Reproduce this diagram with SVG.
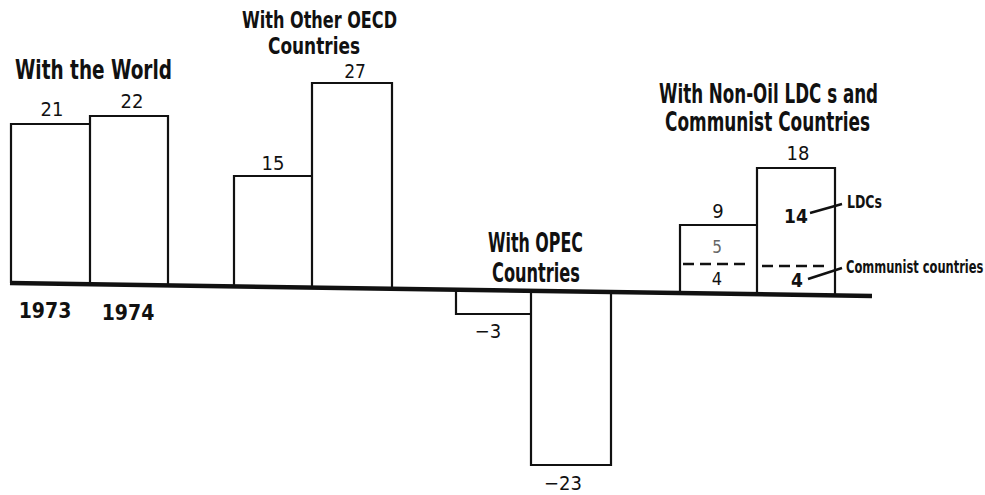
<svg xmlns="http://www.w3.org/2000/svg" width="985" height="495" viewBox="0 0 985 495">
<style>
text{font-family:"Liberation Sans Narrow","DejaVu Sans Condensed","Liberation Sans",sans-serif;fill:#111}
.title{font-size:27px;font-weight:bold}
.num{font-size:20px;text-anchor:middle}
.yr{font-size:21px;font-weight:bold;text-anchor:middle}
.lbl{font-size:17px;font-weight:bold}
.bar{fill:none;stroke:#111;stroke-width:2.2;stroke-linejoin:miter}
.dash{fill:none;stroke:#111;stroke-width:2.6;stroke-dasharray:11 6}
.lead{stroke:#111;stroke-width:2.5;fill:none}
</style>
<rect width="985" height="495" fill="#fff"/>
<g id="axis">
<line x1="10" y1="283" x2="872" y2="296" stroke="#111" stroke-width="4.5"/>
</g>
<g id="world">
<text class="title" x="15" y="79" textLength="157" lengthAdjust="spacingAndGlyphs">With the World</text>
<path class="bar" d="M11,283 V124 H90"/>
<path class="bar" d="M90,284.2 V116 H168 V285.4"/>
<text class="num" x="52" y="116">21</text>
<text class="num" x="132" y="108">22</text>
<text class="yr" x="45" y="318">1973</text>
<text class="yr" x="128" y="320">1974</text>
</g>
<g id="oecd">
<text class="title" x="242" y="28" style="font-size:23px" textLength="155" lengthAdjust="spacingAndGlyphs">With Other OECD</text>
<text class="title" x="268" y="54" style="font-size:23px" textLength="92" lengthAdjust="spacingAndGlyphs">Countries</text>
<path class="bar" d="M234,286.4 V176 H312"/>
<path class="bar" d="M312,287.6 V83 H392 V288.8"/>
<text class="num" x="273" y="170">15</text>
<text class="num" x="355" y="78" style="font-size:19px">27</text>
</g>
<g id="opec">
<text class="title" x="488" y="252" textLength="95" lengthAdjust="spacingAndGlyphs">With OPEC</text>
<text class="title" x="492" y="282" textLength="88" lengthAdjust="spacingAndGlyphs">Countries</text>
<path class="bar" d="M456,289.7 V314 H531"/>
<path class="bar" d="M531,290.9 V465 H611 V292.1"/>
<text class="num" x="488" y="338">−3</text>
<text class="num" x="563" y="490">−23</text>
</g>
<g id="nonoil">
<text class="title" x="659" y="103" textLength="219" lengthAdjust="spacingAndGlyphs">With Non-Oil LDC s and</text>
<text class="title" x="665" y="131" textLength="205" lengthAdjust="spacingAndGlyphs">Communist Countries</text>
<path class="bar" d="M680,293.1 V225 H757"/>
<path class="bar" d="M757,294.3 V168 H835 V295.4"/>
<line class="dash" x1="683" y1="264" x2="750" y2="264"/>
<line class="dash" x1="762" y1="266" x2="830" y2="266"/>
<text class="num" x="718" y="218">9</text>
<text class="num" x="798" y="160">18</text>
<text class="num" x="717" y="253" style="font-size:17px;fill:#666">5</text>
<text class="num" x="717" y="285" style="font-size:18px">4</text>
<text class="num" x="796" y="223" style="font-size:19px;font-weight:bold">14</text>
<text class="num" x="797" y="287" style="font-size:19px;font-weight:bold">4</text>
<text class="lbl" x="847" y="208" textLength="35" lengthAdjust="spacingAndGlyphs">LDCs</text>
<text class="lbl" transform="translate(846,273) scale(0.75,1)" x="0" y="0">Communist countries</text>
</g>
<g id="connectors">
<line class="lead" x1="810" y1="213" x2="842" y2="204"/>
<line class="lead" x1="808" y1="279" x2="842" y2="268"/>
</g>
</svg>
